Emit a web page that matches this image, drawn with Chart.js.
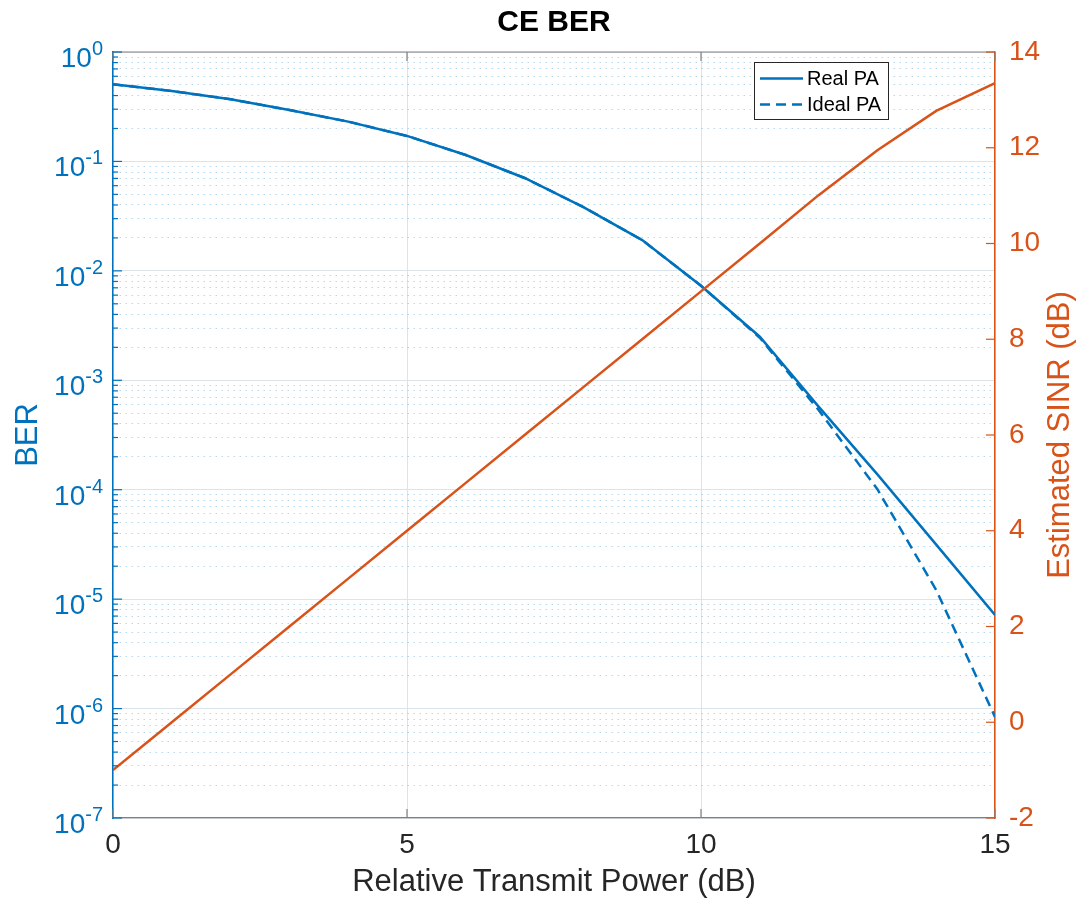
<!DOCTYPE html>
<html>
<head>
<meta charset="utf-8">
<script src="https://cdn.jsdelivr.net/npm/chart.js@4/dist/chart.umd.min.js"></script>
<style>
  html, body { margin: 0; padding: 0; background: #fff; }
  #wrap { width: 1083px; height: 905px; }
</style>
</head>
<body>
<div id="wrap"><canvas id="ceBerChart"></canvas></div>
<script>
const power = [0, 1, 2, 3, 4, 5, 6, 7, 8, 9, 10, 11, 12, 13, 14, 15];
const berRealPA = [0.507, 0.44, 0.37, 0.295, 0.231, 0.171, 0.1145, 0.0706, 0.0383, 0.0191,
                   0.00731, 0.0025, 5.74e-4, 1.38e-4, 3.15e-5, 7.17e-6];
const berIdealPA = [0.507, 0.44, 0.37, 0.295, 0.231, 0.171, 0.1145, 0.0706, 0.0383, 0.0191,
                    0.00731, 0.00245, 5.35e-4, 1.01e-4, 1.21e-5, 8.4e-7];
const sinrEst = [-1, 0, 1, 2, 3, 4, 5, 6, 7, 8, 9, 10, 11.01, 11.95, 12.77, 13.35];
const berExponents = [-7, -6, -5, -4, -3, -2, -1, 0];
const chartTitle = 'CE BER';
const sinrAxisTitle = 'Estimated SINR (dB)';

const BLUE = '#0072BD';
const ORANGE = '#D95319';
const DARK = '#262626';
const FONT = '"Liberation Sans", Arial, Helvetica, sans-serif';

const isDecade = v => Math.abs(Math.log10(v) - Math.round(Math.log10(v))) < 1e-9;

// 1..9 x 10^n for every decade, last decade only its first tick
const berTicks = [];
berExponents.forEach((e, i) => {
    const top = i === berExponents.length - 1 ? 1 : 9;
    for (let m = 1; m <= top; m++) berTicks.push(m * Math.pow(10, e));
});

const toPoints = ys => ys.map((v, i) => ({ x: power[i], y: v }));

// title, inward tick marks, box top edge, superscript decade labels, right title and the legend
const axisDecor = {
    id: 'axisDecor',
    afterDraw(chart) {
        const { ctx, chartArea: a, scales: { x, y, y2 } } = chart;
        ctx.save();

        const seg = (x1, y1, x2, y2_, color, w) => {
            ctx.strokeStyle = color;
            ctx.lineWidth = w;
            ctx.beginPath();
            ctx.moveTo(x1, y1);
            ctx.lineTo(x2, y2_);
            ctx.stroke();
        };

        // title centred over the plot box
        ctx.fillStyle = '#000';
        ctx.font = `bold 30px ${FONT}`;
        ctx.textAlign = 'center';
        ctx.textBaseline = 'middle';
        ctx.fillText(chartTitle, (a.left + a.right) / 2, 23);

        seg(a.left, a.top, a.right, a.top, '#808080', 1.2);

        x.ticks.forEach(t => {
            const px = x.getPixelForValue(t.value);
            seg(px, a.bottom, px, a.bottom - 9, '#808080', 1.2);
            seg(px, a.top, px, a.top + 9, '#808080', 1.2);
        });

        y.ticks.forEach(t => {
            const py = y.getPixelForValue(t.value);
            seg(a.left, py, a.left + (isDecade(t.value) ? 9 : 5), py, BLUE, 1.2);
        });

        y2.ticks.forEach(t => {
            const py = y2.getPixelForValue(t.value);
            seg(a.right, py, a.right - 9, py, ORANGE, 1.2);
        });

        // 10^n labels
        ctx.fillStyle = BLUE;
        ctx.textBaseline = 'alphabetic';
        ctx.textAlign = 'right';
        berExponents.forEach(e => {
            const py = y.getPixelForValue(Math.pow(10, e));
            const rx = a.left - 10;
            ctx.font = `20px ${FONT}`;
            const expText = String(e);
            const ew = ctx.measureText(expText).width;
            ctx.fillText(expText, rx, py + 3);
            ctx.font = `28px ${FONT}`;
            ctx.fillText('10', rx - ew, py + 15);
        });

        // right axis title, reading upwards
        ctx.save();
        ctx.translate(1060, (a.top + a.bottom) / 2);
        ctx.rotate(-Math.PI / 2);
        ctx.fillStyle = ORANGE;
        ctx.font = `31px ${FONT}`;
        ctx.textAlign = 'center';
        ctx.textBaseline = 'middle';
        ctx.fillText(sinrAxisTitle, 0, 0);
        ctx.restore();

        // legend box
        const lx = 754, ly = 62, lw = 134, lh = 57;
        ctx.fillStyle = '#fff';
        ctx.fillRect(lx, ly, lw, lh);
        ctx.strokeStyle = DARK;
        ctx.lineWidth = 1;
        ctx.strokeRect(lx + 0.5, ly + 0.5, lw, lh);

        const entries = chart.data.datasets.filter(d => d.inLegend);
        entries.forEach((d, i) => {
            const cy = ly + 16.5 + i * 26;
            ctx.setLineDash(d.borderDash || []);
            seg(lx + 6, cy, lx + 49, cy, d.borderColor, d.borderWidth);
            ctx.setLineDash([]);
            ctx.fillStyle = '#000';
            ctx.font = `20px ${FONT}`;
            ctx.textAlign = 'left';
            ctx.textBaseline = 'middle';
            ctx.fillText(d.label, lx + 53, cy + 1);
        });

        ctx.restore();
    }
};

new Chart(document.getElementById('ceBerChart'), {
    type: 'line',
    data: {
        datasets: [
            {
                label: 'Estimated SINR',
                data: toPoints(sinrEst),
                yAxisID: 'y2',
                borderColor: ORANGE,
                borderWidth: 2.5,
                pointRadius: 0,
                tension: 0,
                inLegend: false,
                order: 0
            },
            {
                label: 'Real PA',
                data: toPoints(berRealPA),
                yAxisID: 'y',
                borderColor: BLUE,
                borderWidth: 2.5,
                pointRadius: 0,
                tension: 0,
                inLegend: true,
                order: 1
            },
            {
                label: 'Ideal PA',
                data: toPoints(berIdealPA),
                yAxisID: 'y',
                borderColor: BLUE,
                borderWidth: 2.5,
                borderDash: [10, 6],
                pointRadius: 0,
                tension: 0,
                inLegend: true,
                order: 2
            }
        ]
    },
    options: {
        responsive: true,
        maintainAspectRatio: false,
        animation: false,
        layout: { padding: { top: 52, left: 0, right: 0, bottom: 0 } },
        plugins: {
            legend: { display: false },
            tooltip: { enabled: false },
            title: { display: false }
        },
        scales: {
            x: {
                type: 'linear',
                min: 0,
                max: 15,
                ticks: { stepSize: 5, color: DARK, font: { family: FONT, size: 28 }, padding: 10 },
                grid: { color: '#e2e2e2', drawTicks: false },
                border: { color: '#808080', width: 1.2 },
                title: {
                    display: true,
                    text: 'Relative Transmit Power (dB)',
                    color: DARK,
                    font: { family: FONT, size: 31 },
                    padding: { top: 0, bottom: 4 }
                },
                afterFit(s) { s.height = 87; }
            },
            y: {
                type: 'logarithmic',
                position: 'left',
                min: 1e-7,
                max: 1,
                afterBuildTicks(s) {
                    s.ticks = berTicks.map(v => ({ value: v, major: isDecade(v) }));
                },
                ticks: { display: false },
                grid: {
                    drawTicks: false,
                    color: ctx => (ctx.tick && !isDecade(ctx.tick.value)) ? 'rgba(0,114,189,0.28)' : '#dce4eb',
                    lineWidth: 1
                },
                border: {
                    color: BLUE,
                    width: 1.5,
                    dash: ctx => (ctx.tick && !isDecade(ctx.tick.value)) ? [1.5, 4.5] : []
                },
                title: {
                    display: true,
                    text: 'BER',
                    color: BLUE,
                    font: { family: FONT, size: 31 },
                    padding: { top: 10, bottom: 0 }
                },
                afterFit(s) { s.width = 113; }
            },
            y2: {
                type: 'linear',
                position: 'right',
                min: -2,
                max: 14,
                ticks: { stepSize: 2, color: ORANGE, font: { family: FONT, size: 28 }, padding: 14 },
                grid: { drawOnChartArea: false, drawTicks: false },
                border: { color: ORANGE, width: 1.5 },
                afterFit(s) { s.width = 88; }
            }
        }
    },
    plugins: [axisDecor]
});
</script>
</body>
</html>
